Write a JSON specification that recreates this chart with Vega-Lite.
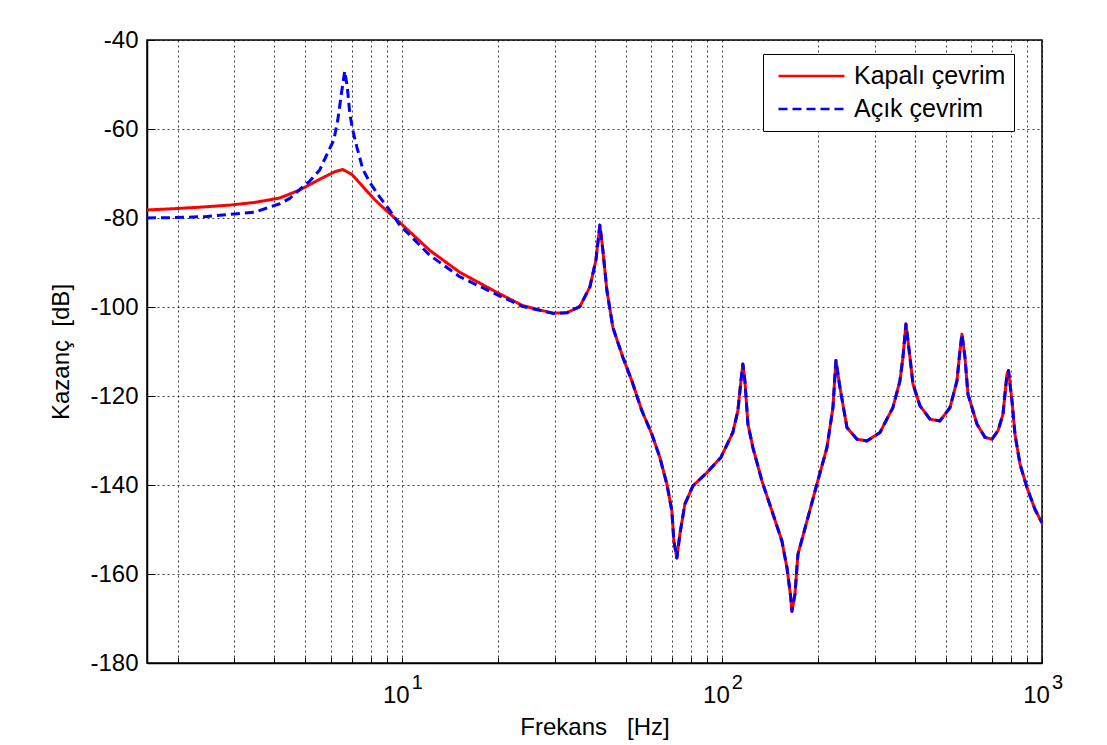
{
  "$schema": "https://vega.github.io/schema/vega-lite/v6.json",
  "width": 895,
  "height": 623,
  "autosize": "none",
  "padding": {"left": 147, "top": 40, "right": 65, "bottom": 82},
  "background": "white",
  "config": {
    "font": "Liberation Sans",
    "view": {"stroke": "#000", "strokeWidth": 1.5},
    "axis": {
      "domainColor": "#000",
      "domainWidth": 1.5,
      "tickColor": "#000",
      "tickWidth": 1,
      "labelColor": "#000",
      "labelFont": "Liberation Sans",
      "labelFontSize": 24,
      "titleFont": "Liberation Sans",
      "titleFontSize": 24,
      "titleFontWeight": "normal",
      "titleColor": "#000",
      "grid": true,
      "gridColor": "#000",
      "gridOpacity": 0.75,
      "gridDash": [2, 3],
      "gridWidth": 1,
      "labelOverlap": false,
      "labelFlush": false
    },
    "legend": {
      "title": null,
      "orient": "none",
      "legendX": 616,
      "legendY": 14,
      "direction": "vertical",
      "fillColor": "#ffffff",
      "strokeColor": "#000000",
      "strokeWidth": 1,
      "padding": 8,
      "symbolType": "stroke",
      "symbolSize": 4356,
      "symbolStrokeWidth": 2.5,
      "symbolOffset": 6,
      "labelFont": "Liberation Sans",
      "labelFontSize": 25,
      "labelColor": "#000",
      "labelOffset": 8,
      "clipHeight": 28,
      "rowPadding": 5
    }
  },
  "resolve": {"axis": {"x": "independent"}},
  "data": {
    "values": [
      {"s": "Kapalı çevrim", "f": 1.6, "db": -78.2},
      {"s": "Kapalı çevrim", "f": 1.953, "db": -77.9},
      {"s": "Kapalı çevrim", "f": 2.424, "db": -77.5},
      {"s": "Kapalı çevrim", "f": 2.901, "db": -77.1},
      {"s": "Kapalı çevrim", "f": 3.473, "db": -76.5},
      {"s": "Kapalı çevrim", "f": 4.157, "db": -75.5},
      {"s": "Kapalı çevrim", "f": 4.8, "db": -73.7},
      {"s": "Kapalı çevrim", "f": 5.543, "db": -71.3},
      {"s": "Kapalı çevrim", "f": 6.175, "db": -69.6},
      {"s": "Kapalı çevrim", "f": 6.541, "db": -69.1},
      {"s": "Kapalı çevrim", "f": 6.98, "db": -70.2},
      {"s": "Kapalı çevrim", "f": 7.553, "db": -72.9},
      {"s": "Kapalı çevrim", "f": 8.234, "db": -75.9},
      {"s": "Kapalı çevrim", "f": 8.849, "db": -78.0},
      {"s": "Kapalı çevrim", "f": 9.857, "db": -81.0},
      {"s": "Kapalı çevrim", "f": 12.24, "db": -87.3},
      {"s": "Kapalı çevrim", "f": 15.18, "db": -92.2},
      {"s": "Kapalı çevrim", "f": 19.81, "db": -96.7},
      {"s": "Kapalı çevrim", "f": 23.89, "db": -99.7},
      {"s": "Kapalı çevrim", "f": 29.64, "db": -101.4},
      {"s": "Kapalı çevrim", "f": 32.78, "db": -101.3},
      {"s": "Kapalı çevrim", "f": 36.0, "db": -99.9},
      {"s": "Kapalı çevrim", "f": 38.69, "db": -95.5},
      {"s": "Kapalı çevrim", "f": 40.4, "db": -89.5},
      {"s": "Kapalı çevrim", "f": 41.58, "db": -81.6},
      {"s": "Kapalı çevrim", "f": 42.49, "db": -87.3},
      {"s": "Kapalı çevrim", "f": 43.73, "db": -96.3},
      {"s": "Kapalı çevrim", "f": 45.66, "db": -104.6},
      {"s": "Kapalı çevrim", "f": 49.05, "db": -111.3},
      {"s": "Kapalı çevrim", "f": 52.33, "db": -116.6},
      {"s": "Kapalı çevrim", "f": 56.23, "db": -123.3},
      {"s": "Kapalı çevrim", "f": 60.43, "db": -128.6},
      {"s": "Kapalı çevrim", "f": 64.01, "db": -133.8},
      {"s": "Kapalı çevrim", "f": 67.32, "db": -139.8},
      {"s": "Kapalı çevrim", "f": 69.78, "db": -145.8},
      {"s": "Kapalı çevrim", "f": 70.79, "db": -152.6},
      {"s": "Kapalı çevrim", "f": 72.33, "db": -156.4},
      {"s": "Kapalı çevrim", "f": 73.91, "db": -151.1},
      {"s": "Kapalı çevrim", "f": 76.63, "db": -144.3},
      {"s": "Kapalı çevrim", "f": 81.18, "db": -140.2},
      {"s": "Kapalı çevrim", "f": 89.81, "db": -137.2},
      {"s": "Kapalı çevrim", "f": 99.28, "db": -133.8},
      {"s": "Kapalı çevrim", "f": 108.2, "db": -128.2},
      {"s": "Kapalı çevrim", "f": 112.2, "db": -123.3},
      {"s": "Kapalı çevrim", "f": 114.7, "db": -116.6},
      {"s": "Kapalı çevrim", "f": 116.3, "db": -112.8},
      {"s": "Kapalı çevrim", "f": 118.0, "db": -116.6},
      {"s": "Kapalı çevrim", "f": 120.6, "db": -126.3},
      {"s": "Kapalı çevrim", "f": 125.0, "db": -131.6},
      {"s": "Kapalı çevrim", "f": 133.4, "db": -139.1},
      {"s": "Kapalı çevrim", "f": 143.3, "db": -145.8},
      {"s": "Kapalı çevrim", "f": 154.0, "db": -152.6},
      {"s": "Kapalı çevrim", "f": 159.7, "db": -158.6},
      {"s": "Kapalı çevrim", "f": 163.7, "db": -164.6},
      {"s": "Kapalı çevrim", "f": 165.5, "db": -168.4},
      {"s": "Kapalı çevrim", "f": 169.1, "db": -164.6},
      {"s": "Kapalı çevrim", "f": 172.8, "db": -155.6},
      {"s": "Kapalı çevrim", "f": 184.4, "db": -148.1},
      {"s": "Kapalı çevrim", "f": 198.1, "db": -139.8},
      {"s": "Kapalı çevrim", "f": 212.9, "db": -131.6},
      {"s": "Kapalı çevrim", "f": 222.3, "db": -122.6},
      {"s": "Kapalı çevrim", "f": 227.1, "db": -112.0},
      {"s": "Kapalı çevrim", "f": 233.8, "db": -118.1},
      {"s": "Kapalı çevrim", "f": 245.9, "db": -127.1},
      {"s": "Kapalı çevrim", "f": 264.2, "db": -129.7},
      {"s": "Kapalı çevrim", "f": 283.9, "db": -130.1},
      {"s": "Kapalı çevrim", "f": 311.8, "db": -128.2},
      {"s": "Kapalı çevrim", "f": 342.2, "db": -122.6},
      {"s": "Kapalı çevrim", "f": 359.9, "db": -116.6},
      {"s": "Kapalı çevrim", "f": 367.8, "db": -111.3},
      {"s": "Kapalı çevrim", "f": 375.8, "db": -103.8},
      {"s": "Kapalı çevrim", "f": 386.8, "db": -111.3},
      {"s": "Kapalı çevrim", "f": 395.3, "db": -117.3},
      {"s": "Kapalı çevrim", "f": 415.7, "db": -122.2},
      {"s": "Kapalı çevrim", "f": 446.7, "db": -125.2},
      {"s": "Kapalı çevrim", "f": 480.0, "db": -125.6},
      {"s": "Kapalı çevrim", "f": 515.8, "db": -122.6},
      {"s": "Kapalı çevrim", "f": 542.5, "db": -116.6},
      {"s": "Kapalı çevrim", "f": 554.3, "db": -109.8},
      {"s": "Kapalı çevrim", "f": 562.3, "db": -106.1},
      {"s": "Kapalı çevrim", "f": 574.6, "db": -111.3},
      {"s": "Kapalı çevrim", "f": 587.1, "db": -119.6},
      {"s": "Kapalı çevrim", "f": 626.4, "db": -126.3},
      {"s": "Kapalı çevrim", "f": 663.5, "db": -129.3},
      {"s": "Kapalı çevrim", "f": 697.8, "db": -129.7},
      {"s": "Kapalı çevrim", "f": 728.6, "db": -127.8},
      {"s": "Kapalı çevrim", "f": 755.3, "db": -124.1},
      {"s": "Kapalı çevrim", "f": 777.3, "db": -115.1},
      {"s": "Kapalı çevrim", "f": 785.8, "db": -114.3},
      {"s": "Kapalı çevrim", "f": 805.8, "db": -121.1},
      {"s": "Kapalı çevrim", "f": 823.4, "db": -128.6},
      {"s": "Kapalı çevrim", "f": 853.6, "db": -135.3},
      {"s": "Kapalı çevrim", "f": 897.8, "db": -140.6},
      {"s": "Kapalı çevrim", "f": 951.0, "db": -145.5},
      {"s": "Kapalı çevrim", "f": 1000, "db": -148.5},

      {"s": "Açık çevrim", "f": 1.6, "db": -80.0},
      {"s": "Açık çevrim", "f": 1.953, "db": -79.9},
      {"s": "Açık çevrim", "f": 2.424, "db": -79.7},
      {"s": "Açık çevrim", "f": 2.901, "db": -79.2},
      {"s": "Açık çevrim", "f": 3.473, "db": -78.7},
      {"s": "Açık çevrim", "f": 4.157, "db": -76.8},
      {"s": "Açık çevrim", "f": 4.467, "db": -75.6},
      {"s": "Açık çevrim", "f": 4.8, "db": -73.6},
      {"s": "Açık çevrim", "f": 5.158, "db": -71.7},
      {"s": "Açık çevrim", "f": 5.543, "db": -69.2},
      {"s": "Açık çevrim", "f": 5.664, "db": -67.7},
      {"s": "Açık çevrim", "f": 6.131, "db": -62.5},
      {"s": "Açık çevrim", "f": 6.31, "db": -58.0},
      {"s": "Açık çevrim", "f": 6.494, "db": -51.5},
      {"s": "Açık çevrim", "f": 6.636, "db": -47.0},
      {"s": "Açık çevrim", "f": 6.756, "db": -50.5},
      {"s": "Açık çevrim", "f": 6.879, "db": -56.5},
      {"s": "Açık çevrim", "f": 7.031, "db": -60.3},
      {"s": "Açık çevrim", "f": 7.236, "db": -64.0},
      {"s": "Açık çevrim", "f": 7.553, "db": -69.0},
      {"s": "Açık çevrim", "f": 7.943, "db": -72.0},
      {"s": "Açık çevrim", "f": 8.536, "db": -75.3},
      {"s": "Açık çevrim", "f": 9.173, "db": -78.3},
      {"s": "Açık çevrim", "f": 9.857, "db": -81.6},
      {"s": "Açık çevrim", "f": 12.24, "db": -88.4},
      {"s": "Açık çevrim", "f": 15.18, "db": -93.2},
      {"s": "Açık çevrim", "f": 19.81, "db": -97.2},
      {"s": "Açık çevrim", "f": 23.89, "db": -99.9},
      {"s": "Açık çevrim", "f": 29.64, "db": -101.4},
      {"s": "Açık çevrim", "f": 32.78, "db": -101.3},
      {"s": "Açık çevrim", "f": 36.0, "db": -99.9},
      {"s": "Açık çevrim", "f": 38.69, "db": -95.5},
      {"s": "Açık çevrim", "f": 40.4, "db": -89.5},
      {"s": "Açık çevrim", "f": 41.58, "db": -81.6},
      {"s": "Açık çevrim", "f": 42.49, "db": -87.3},
      {"s": "Açık çevrim", "f": 43.73, "db": -96.3},
      {"s": "Açık çevrim", "f": 45.66, "db": -104.6},
      {"s": "Açık çevrim", "f": 49.05, "db": -111.3},
      {"s": "Açık çevrim", "f": 52.33, "db": -116.6},
      {"s": "Açık çevrim", "f": 56.23, "db": -123.3},
      {"s": "Açık çevrim", "f": 60.43, "db": -128.6},
      {"s": "Açık çevrim", "f": 64.01, "db": -133.8},
      {"s": "Açık çevrim", "f": 67.32, "db": -139.8},
      {"s": "Açık çevrim", "f": 69.78, "db": -145.8},
      {"s": "Açık çevrim", "f": 70.79, "db": -152.6},
      {"s": "Açık çevrim", "f": 72.33, "db": -156.4},
      {"s": "Açık çevrim", "f": 73.91, "db": -151.1},
      {"s": "Açık çevrim", "f": 76.63, "db": -144.3},
      {"s": "Açık çevrim", "f": 81.18, "db": -140.2},
      {"s": "Açık çevrim", "f": 89.81, "db": -137.2},
      {"s": "Açık çevrim", "f": 99.28, "db": -133.8},
      {"s": "Açık çevrim", "f": 108.2, "db": -128.2},
      {"s": "Açık çevrim", "f": 112.2, "db": -123.3},
      {"s": "Açık çevrim", "f": 114.7, "db": -116.6},
      {"s": "Açık çevrim", "f": 116.3, "db": -112.8},
      {"s": "Açık çevrim", "f": 118.0, "db": -116.6},
      {"s": "Açık çevrim", "f": 120.6, "db": -126.3},
      {"s": "Açık çevrim", "f": 125.0, "db": -131.6},
      {"s": "Açık çevrim", "f": 133.4, "db": -139.1},
      {"s": "Açık çevrim", "f": 143.3, "db": -145.8},
      {"s": "Açık çevrim", "f": 154.0, "db": -152.6},
      {"s": "Açık çevrim", "f": 159.7, "db": -158.6},
      {"s": "Açık çevrim", "f": 163.7, "db": -164.6},
      {"s": "Açık çevrim", "f": 165.5, "db": -168.4},
      {"s": "Açık çevrim", "f": 169.1, "db": -164.6},
      {"s": "Açık çevrim", "f": 172.8, "db": -155.6},
      {"s": "Açık çevrim", "f": 184.4, "db": -148.1},
      {"s": "Açık çevrim", "f": 198.1, "db": -139.8},
      {"s": "Açık çevrim", "f": 212.9, "db": -131.6},
      {"s": "Açık çevrim", "f": 222.3, "db": -122.6},
      {"s": "Açık çevrim", "f": 227.1, "db": -112.0},
      {"s": "Açık çevrim", "f": 233.8, "db": -118.1},
      {"s": "Açık çevrim", "f": 245.9, "db": -127.1},
      {"s": "Açık çevrim", "f": 264.2, "db": -129.7},
      {"s": "Açık çevrim", "f": 283.9, "db": -130.1},
      {"s": "Açık çevrim", "f": 311.8, "db": -128.2},
      {"s": "Açık çevrim", "f": 342.2, "db": -122.6},
      {"s": "Açık çevrim", "f": 359.9, "db": -116.6},
      {"s": "Açık çevrim", "f": 367.8, "db": -111.3},
      {"s": "Açık çevrim", "f": 375.8, "db": -103.8},
      {"s": "Açık çevrim", "f": 386.8, "db": -111.3},
      {"s": "Açık çevrim", "f": 395.3, "db": -117.3},
      {"s": "Açık çevrim", "f": 415.7, "db": -122.2},
      {"s": "Açık çevrim", "f": 446.7, "db": -125.2},
      {"s": "Açık çevrim", "f": 480.0, "db": -125.6},
      {"s": "Açık çevrim", "f": 515.8, "db": -122.6},
      {"s": "Açık çevrim", "f": 542.5, "db": -116.6},
      {"s": "Açık çevrim", "f": 554.3, "db": -109.8},
      {"s": "Açık çevrim", "f": 562.3, "db": -106.1},
      {"s": "Açık çevrim", "f": 574.6, "db": -111.3},
      {"s": "Açık çevrim", "f": 587.1, "db": -119.6},
      {"s": "Açık çevrim", "f": 626.4, "db": -126.3},
      {"s": "Açık çevrim", "f": 663.5, "db": -129.3},
      {"s": "Açık çevrim", "f": 697.8, "db": -129.7},
      {"s": "Açık çevrim", "f": 728.6, "db": -127.8},
      {"s": "Açık çevrim", "f": 755.3, "db": -124.1},
      {"s": "Açık çevrim", "f": 777.3, "db": -115.1},
      {"s": "Açık çevrim", "f": 785.8, "db": -114.3},
      {"s": "Açık çevrim", "f": 805.8, "db": -121.1},
      {"s": "Açık çevrim", "f": 823.4, "db": -128.6},
      {"s": "Açık çevrim", "f": 853.6, "db": -135.3},
      {"s": "Açık çevrim", "f": 897.8, "db": -140.6},
      {"s": "Açık çevrim", "f": 951.0, "db": -145.5},
      {"s": "Açık çevrim", "f": 1000, "db": -148.5}
    ]
  },
  "encoding": {
    "y": {
      "field": "db",
      "type": "quantitative",
      "title": "Kazanç\u00a0\u00a0[dB]",
      "scale": {"domain": [-180, -40], "nice": false},
      "axis": {
        "values": [-180, -160, -140, -120, -100, -80, -60, -40],
        "labelExpr": "'' + datum.value",
        "tickSize": -8,
        "labelPadding": 17,
        "titlePadding": 16
      }
    },
    "color": {
      "field": "s",
      "type": "nominal",
      "scale": {"domain": ["Kapalı çevrim", "Açık çevrim"], "range": ["#ff0000", "#0000ff"]},
      "legend": {"title": null}
    },
    "strokeDash": {
      "field": "s",
      "type": "nominal",
      "scale": {"domain": ["Kapalı çevrim", "Açık çevrim"], "range": [[1, 0], [9, 5]]},
      "legend": {"title": null}
    }
  },
  "layer": [
    {
      "transform": [{"filter": "datum.s == 'Kapalı çevrim'"}],
      "mark": {"type": "line", "strokeWidth": 3, "strokeJoin": "round"},
      "encoding": {
        "x": {
          "field": "f",
          "type": "quantitative",
          "title": "Frekans\u00a0\u00a0\u00a0[Hz]",
          "scale": {"type": "log", "domain": [1.6, 1000], "nice": false},
          "axis": {
            "orient": "bottom",
            "values": [2, 3, 4, 5, 6, 7, 8, 9, 10, 20, 30, 40, 50, 60, 70, 80, 90, 100, 200, 300, 400, 500, 600, 700, 800, 900, 1000],
            "labelExpr": "(datum.value == 10 || datum.value == 100 || datum.value == 1000) ? '10' : ''",
            "labelOffset": -6,
            "tickSize": -6,
            "labelPadding": 26,
            "titlePadding": 8
          }
        }
      }
    },
    {
      "transform": [{"filter": "datum.s == 'Açık çevrim'"}],
      "mark": {"type": "line", "strokeWidth": 3, "strokeJoin": "round"},
      "encoding": {
        "x": {
          "field": "f",
          "type": "quantitative",
          "title": null,
          "scale": {"type": "log", "domain": [1.6, 1000], "nice": false},
          "axis": {
            "orient": "bottom",
            "values": [10, 100, 1000],
            "labelExpr": "datum.value == 10 ? '1' : datum.value == 100 ? '2' : '3'",
            "labelFontSize": 20,
            "labelOffset": 15,
            "grid": false,
            "ticks": false,
            "domain": false,
            "labelPadding": 9
          }
        }
      }
    }
  ]
}
